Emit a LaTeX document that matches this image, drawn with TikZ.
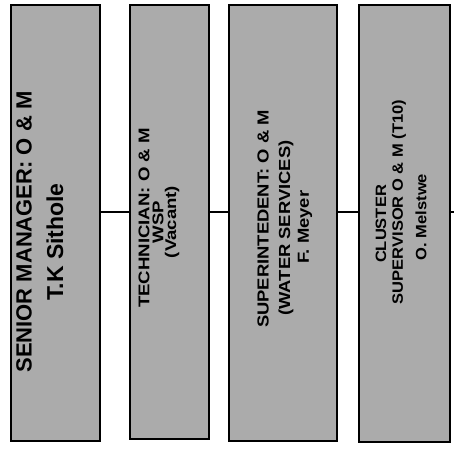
\documentclass[tikz,border=0pt]{standalone}
\usepackage{fontspec}
\setmainfont{Liberation Sans}
\newfontfamily\widetwo[FakeStretch=1.2]{Liberation Sans}
\newfontfamily\widethree[FakeStretch=1.15]{Liberation Sans}
\newfontfamily\widefour[FakeStretch=1.1]{Liberation Sans}
\definecolor{boxgray}{HTML}{ABABAB}
\begin{document}
\begin{tikzpicture}[x=1pt,y=-1pt,
  post/.style={draw=black, line width=1.4pt, fill=boxgray, inner sep=0pt},
  label/.style={rotate=90, inner sep=0pt},
  link/.style={draw=black, line width=1.2pt}]
\useasboundingbox (0,0) rectangle (454,450);
\fill[white] (0,0) rectangle (454,450);

% four position boxes
\node[post, minimum width=89pt, minimum height=436pt] (b1) at (55.5,223) {};
\node[post, minimum width=79pt, minimum height=434pt] (b2) at (169.5,222) {};
\node[post, minimum width=108pt, minimum height=436pt] (b3) at (283,223) {};
\node[post, minimum width=91pt, minimum height=437pt] (b4) at (404.5,223.5) {};

% connecting line
\coordinate (lvl) at (0,212);
\coordinate (tail) at (454,212);
\draw[link] (b1.east |- lvl) -- (b2.west |- lvl);
\draw[link] (b2.east |- lvl) -- (b3.west |- lvl);
\draw[link] (b3.east |- lvl) -- (b4.west |- lvl);
\draw[link] (b4.east |- lvl) -- (tail);

% box texts
\node[label, font=\bfseries\fontsize{22}{22}\selectfont] (t1a) at (24,232) {SENIOR MANAGER: O \& M};
\node[label, font=\bfseries\fontsize{23}{23}\selectfont] (t1b) at (55,242) {T.K Sithole};

\node[label, font=\widetwo\bfseries\fontsize{15.5}{15.5}\selectfont] (t2a) at (144,218) {TECHNICIAN:  O \& M};
\node[label, font=\widetwo\bfseries\fontsize{15.5}{15.5}\selectfont] (t2b) at (158,222) {WSP};
\node[label, font=\widetwo\bfseries\fontsize{15.5}{15.5}\selectfont] (t2c) at (172,222) {(Vacant)};

\node[label, font=\widethree\bfseries\fontsize{16}{16}\selectfont] (t3a) at (263,219) {SUPERINTEDENT: O \& M};
\node[label, font=\widethree\bfseries\fontsize{16}{16}\selectfont] (t3b) at (286,228) {(WATER SERVICES)};
\node[label, font=\widethree\bfseries\fontsize{16}{16}\selectfont] (t3c) at (305,227) {F. Meyer};

\node[label, font=\widefour\bfseries\fontsize{15}{15}\selectfont] (t4a) at (381,224) {CLUSTER};
\node[label, font=\widefour\bfseries\fontsize{15}{15}\selectfont] (t4b) at (399,202) {SUPERVISOR O \& M (T10)};
\node[label, font=\widefour\bfseries\fontsize{15}{15}\selectfont] (t4c) at (421,217) {O. Melstwe};
\end{tikzpicture}
\end{document}
